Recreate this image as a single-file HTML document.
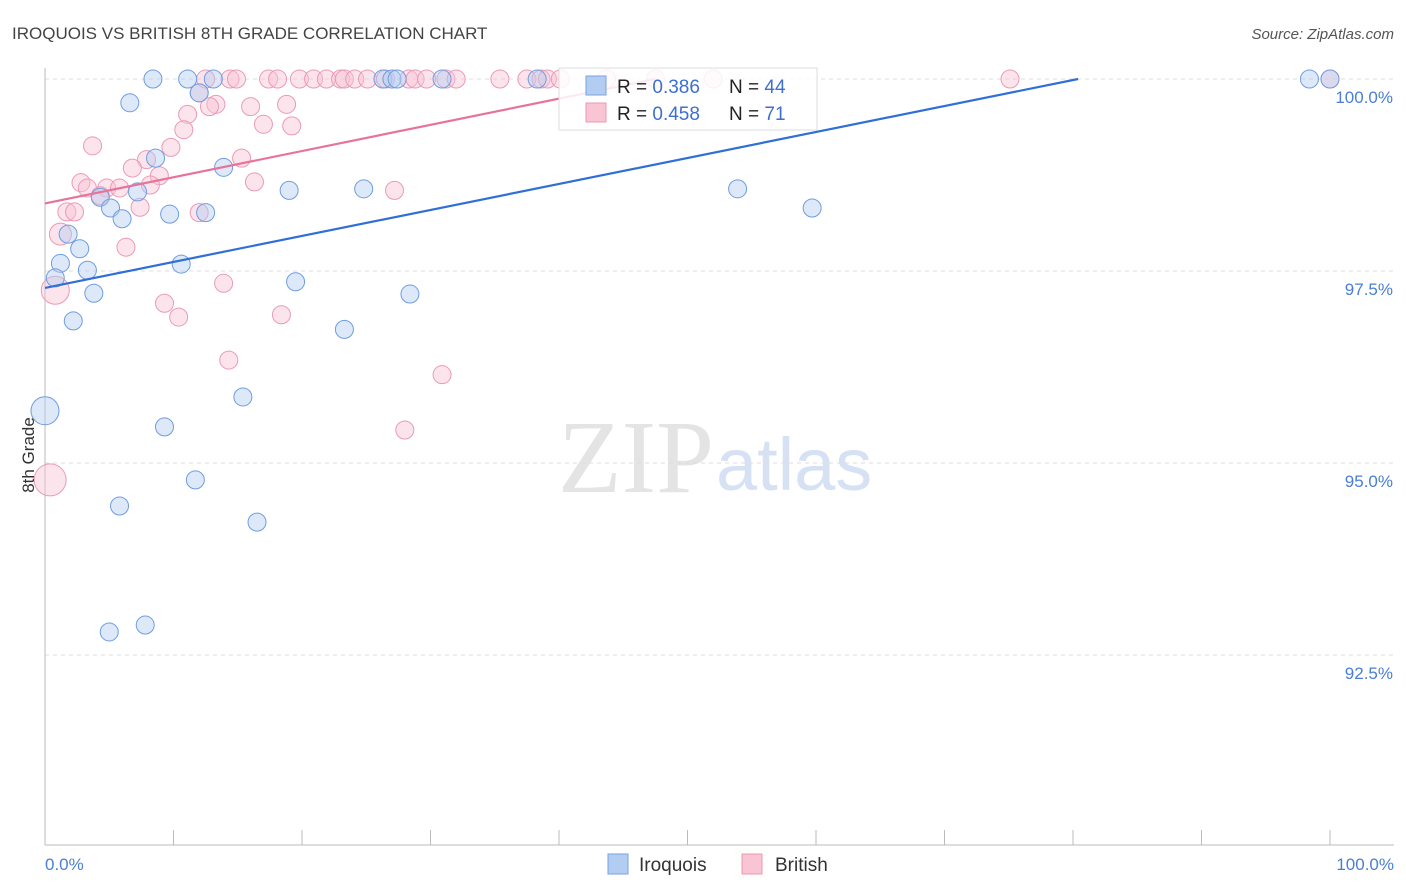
<!DOCTYPE html>
<html><head><meta charset="utf-8"><style>
body{margin:0;background:#fff;font-family:"Liberation Sans",sans-serif;}
svg{display:block}
</style></head><body>
<svg id="chart" width="1406" height="892">
<text x="12" y="39" font-size="17" fill="#444">IROQUOIS VS BRITISH 8TH GRADE CORRELATION CHART</text>
<text x="1394" y="39" font-size="15" fill="#555" font-style="italic" text-anchor="end">Source: ZipAtlas.com</text>
<text x="714" y="492" font-size="104" fill="#e4e4e4" text-anchor="end" font-family="Liberation Serif,serif">ZIP</text>
<text x="716" y="490" font-size="74" fill="#d6e2f4">atlas</text>
<g id="grid"></g><g id="marks"></g>
<text transform="translate(34,455) rotate(-90)" font-size="17" fill="#333" text-anchor="middle">8th Grade</text>
<g>
<rect x="559" y="68" width="258" height="62" fill="#fff" fill-opacity="0.85" stroke="#ddd"/>
<rect x="586" y="76" width="20" height="19" fill="#b3cdf2" stroke="#7aa3e0"/>
<rect x="586" y="103" width="20" height="19" fill="#f9c4d4" stroke="#eb9ab5"/>
<text x="617" y="93" font-size="19" fill="#222">R = <tspan fill="#3d6fd0">0.386</tspan></text>
<text x="729" y="93" font-size="19" fill="#222">N = <tspan fill="#3d6fd0">44</tspan></text>
<text x="617" y="120" font-size="19" fill="#222">R = <tspan fill="#3d6fd0">0.458</tspan></text>
<text x="729" y="120" font-size="19" fill="#222">N = <tspan fill="#3d6fd0"> 71</tspan></text>
</g>
<g>
<rect x="608" y="854" width="20" height="20" fill="#b3cdf2" stroke="#7aa3e0"/>
<text x="639" y="871" font-size="19" fill="#333">Iroquois</text>
<rect x="742" y="854" width="20" height="20" fill="#f9c4d4" stroke="#eb9ab5"/>
<text x="775" y="871" font-size="19" fill="#333">British</text>
</g>
</svg>
<script>
const yTicks=[100,97.5,95,92.5];
const yTickLabels=["100.0%","97.5%","95.0%","92.5%"];
const xTickLabels=["0.0%","100.0%"];
const blueX=[8.4,11.1,13.1,26.3,27.0,27.4,30.9,38.3,98.4,100,6.6,12.0,8.6,13.9,19.0,24.8,53.9,59.7,4.3,5.1,7.2,6.0,9.7,12.5,1.8,2.7,1.2,3.3,10.6,0.8,3.8,19.5,28.4,2.2,23.3,0,15.4,9.3,11.7,5.8,16.5,5.0,7.8];
const blueY=[100,100,100,100,100,100,100,100,100,100,99.69,99.82,98.97,98.85,98.55,98.57,98.57,98.32,98.46,98.32,98.53,98.18,98.24,98.26,97.98,97.79,97.60,97.51,97.59,97.41,97.21,97.36,97.20,96.85,96.74,95.68,95.86,95.47,94.78,94.44,94.23,92.80,92.89];
const blueR=[9,9,9,9,9,9,9,9,9,9,9,9,9,9,9,9,9,9,9,9,9,9,9,9,9,9,9,9,9,9,9,9,9,9,9,14,9,9,9,9,9,9,9];
const pinkX=[12.5,14.4,14.9,17.4,18.1,19.8,20.9,21.9,23.0,23.3,24.1,25.1,26.5,28.3,28.8,29.7,31.2,32.0,35.4,37.5,38.6,39.1,40.1,43.7,47.5,52.0,75.1,100,12.0,13.3,12.8,16.0,18.8,11.1,17.0,19.2,10.8,3.7,9.8,15.3,7.9,6.8,8.9,2.8,16.3,3.3,4.8,5.8,8.2,27.2,4.3,7.4,1.7,2.3,12.0,1.2,6.3,0.8,13.9,9.3,10.4,18.4,14.3,30.9,28.0,0.4];
const pinkY=[100,100,100,100,100,100,100,100,100,100,100,100,100,100,100,100,100,100,100,100,100,100,100,100,100,100,100,100,99.82,99.67,99.64,99.64,99.67,99.54,99.41,99.39,99.34,99.13,99.11,98.97,98.95,98.84,98.74,98.65,98.66,98.58,98.58,98.58,98.62,98.55,98.48,98.33,98.27,98.27,98.26,97.98,97.81,97.25,97.34,97.08,96.90,96.93,96.34,96.15,95.43,94.78];
const pinkR=[9,9,9,9,9,9,9,9,9,9,9,9,9,9,9,9,9,9,9,9,9,9,9,9,9,9,9,9,9,9,9,9,9,9,9,9,9,9,9,9,9,9,9,9,9,9,9,9,9,9,9,9,9,9,9,11,9,14,9,9,9,9,9,9,9,16];
const blueTrendX=[0,80.4], blueTrendY=[97.28,100];
const pinkTrendX=[0,47.5], pinkTrendY=[98.38,100];

const NS="http://www.w3.org/2000/svg";
const sx=v=>45+v*12.85;
const sy=v=>79+(100-v)*76.8;
function mk(tag,attrs,parent){const e=document.createElementNS(NS,tag);for(const k in attrs)e.setAttribute(k,attrs[k]);parent.appendChild(e);return e;}
const grid=document.getElementById('grid'),marks=document.getElementById('marks');
yTicks.forEach((t,i)=>{
 const l=mk('line',{x1:45,x2:1394,y1:sy(t),y2:sy(t),stroke:'#ddd','stroke-dasharray':'4,4'},grid);
 
 
 const tx=mk('text',{x:1393,y:sy(t)+24,'font-size':17,fill:'#4a7fd4','text-anchor':'end'},grid);
 tx.textContent=yTickLabels[i];
 
 
});
const ax=mk('line',{x1:45,x2:1394,y1:845,y2:845,stroke:'#bbb'},grid);


const ay=mk('line',{x1:45,x2:45,y1:68,y2:845,stroke:'#bbb'},grid);


for(let i=0;i<=10;i++){const t=mk('line',{x1:sx(i*10),x2:sx(i*10),y1:830,y2:845,stroke:'#bbb'},grid);
 
 }
[[0,'start',45],[1,'end',1394]].forEach(([i,a,x])=>{const t=mk('text',{x:x,y:870,'font-size':17,fill:'#4a7fd4','text-anchor':a},grid);t.textContent=xTickLabels[i];
 
 });
function pts(X,Y,R,fill,stroke,name){X.forEach((x,i)=>{const c=mk('circle',{cx:sx(x),cy:sy(Y[i]),r:R[i],fill:fill,'fill-opacity':0.45,stroke:stroke,'stroke-width':1},marks);
 
 });}
pts(pinkX,pinkY,pinkR,'#f9c4d4','#eb9ab5','british-point');
pts(blueX,blueY,blueR,'#b3cdf2','#6f9de0','iroquois-point');
const bl=mk('line',{x1:sx(blueTrendX[0]),y1:sy(blueTrendY[0]),x2:sx(blueTrendX[1]),y2:sy(blueTrendY[1]),stroke:'#2f6fd6','stroke-width':2.2},marks);


const pl=mk('line',{x1:sx(pinkTrendX[0]),y1:sy(pinkTrendY[0]),x2:sx(pinkTrendX[1]),y2:sy(pinkTrendY[1]),stroke:'#e8739a','stroke-width':2.2},marks);


</script>
</body></html>
